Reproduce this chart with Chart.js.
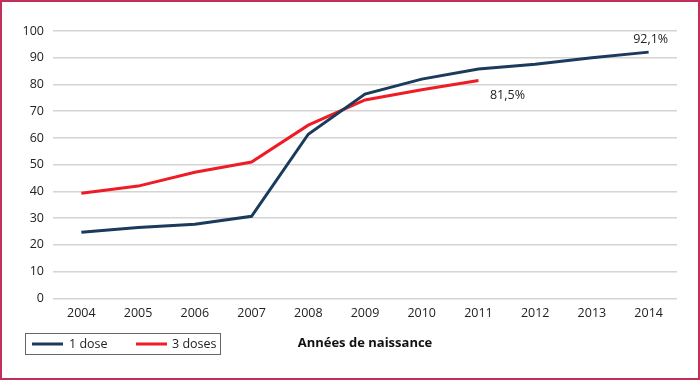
<!DOCTYPE html>
<html>
<head>
<meta charset="utf-8">
<script src="https://cdn.jsdelivr.net/npm/chart.js@4/dist/chart.umd.min.js"></script>
<style>
html,body{margin:0;padding:0;background:#fff;}
#wrap{width:700px;height:380px;position:relative;}
</style>
</head>
<body>
<div id="wrap"><canvas id="c" width="700" height="380"></canvas></div>
<script>
const years = ["2004","2005","2006","2007","2008","2009","2010","2011","2012","2013","2014"];
const oneDose = [24.7, 26.5, 27.7, 30.7, 61.4, 76.4, 82.0, 85.8, 87.6, 90.0, 92.1];
const threeDoses = [39.3, 42.0, 47.2, 51.0, 64.8, 74.2, 78.0, 81.5, null, null, null];
const seriesNames = ["1 dose", "3 doses"];
const endLabels = ["92,1%", "81,5%"];
const axisTitle = "Années de naissance";

const FONT = "'Open Sans', 'Noto Sans', sans-serif";

const framePlugin = {
  id: 'frame',
  beforeDraw(chart){
    const ctx = chart.ctx;
    ctx.save();
    ctx.fillStyle = '#fff';
    ctx.fillRect(0,0,chart.width,chart.height);
    ctx.restore();
  },
  afterDraw(chart){
    const ctx = chart.ctx;
    ctx.save();
    ctx.font = "12.5px " + FONT;
    ctx.fillStyle = '#222';
    ctx.textAlign = 'center';
    ctx.textBaseline = 'middle';
    const offs = [[2,-13],[29,15]];
    chart.data.datasets.forEach((ds, i) => {
      const meta = chart.getDatasetMeta(i);
      let last = -1;
      ds.data.forEach((v, j) => { if (v !== null) last = j; });
      const pt = meta.data[last];
      ctx.fillText(endLabels[i], pt.x + offs[i][0], pt.y + offs[i][1]);
    });
    ctx.strokeStyle = '#666';
    ctx.lineWidth = 1;
    ctx.strokeRect(25.5, 333.5, 195, 21);
    const items = [[32, 69], [136, 172]];
    ctx.textAlign = 'left';
    chart.data.datasets.forEach((ds, i) => {
      ctx.strokeStyle = ds.borderColor;
      ctx.lineWidth = 3;
      ctx.beginPath();
      ctx.moveTo(items[i][0], 344);
      ctx.lineTo(items[i][0] + 31, 344);
      ctx.stroke();
      ctx.fillStyle = '#222';
      ctx.fillText(ds.label, items[i][1], 344);
    });
    ctx.strokeStyle = '#C2305A';
    ctx.lineWidth = 2;
    ctx.strokeRect(1, 1, chart.width - 2, chart.height - 2);
    ctx.restore();
  }
};

new Chart(document.getElementById('c'), {
  type: 'line',
  data: {
    labels: years,
    datasets: [
      { label: seriesNames[0], data: oneDose, borderColor: '#1B3A5C', borderWidth: 3, pointRadius: 0, tension: 0, fill: false },
      { label: seriesNames[1], data: threeDoses, borderColor: '#EE1C25', borderWidth: 3, pointRadius: 0, tension: 0, fill: false }
    ]
  },
  options: {
    responsive: false,
    animation: false,
    devicePixelRatio: 1,
    layout: { padding: { top: 31, right: 23, bottom: 29, left: 0 } },
    plugins: { legend: { display: false }, tooltip: { enabled: false } },
    scales: {
      x: {
        offset: true,
        grid: { display: false, drawTicks: false },
        border: { display: false },
        ticks: { color: '#222', font: { family: FONT, size: 12.5 }, padding: 8, maxRotation: 0 },
        title: { display: true, text: axisTitle, color: '#111', font: { family: FONT, size: 13, weight: 'bold' }, padding: { top: 6, bottom: 0 } }
      },
      y: {
        min: 0, max: 100,
        afterFit(scale){ scale.width = 53; },
        grid: { color: '#d4d4d4', lineWidth: 1.5, drawTicks: false },
        border: { display: false },
        ticks: { stepSize: 10, color: '#222', font: { family: FONT, size: 12.5 }, padding: 9 }
      }
    }
  },
  plugins: [framePlugin]
});
</script>
</body>
</html>
